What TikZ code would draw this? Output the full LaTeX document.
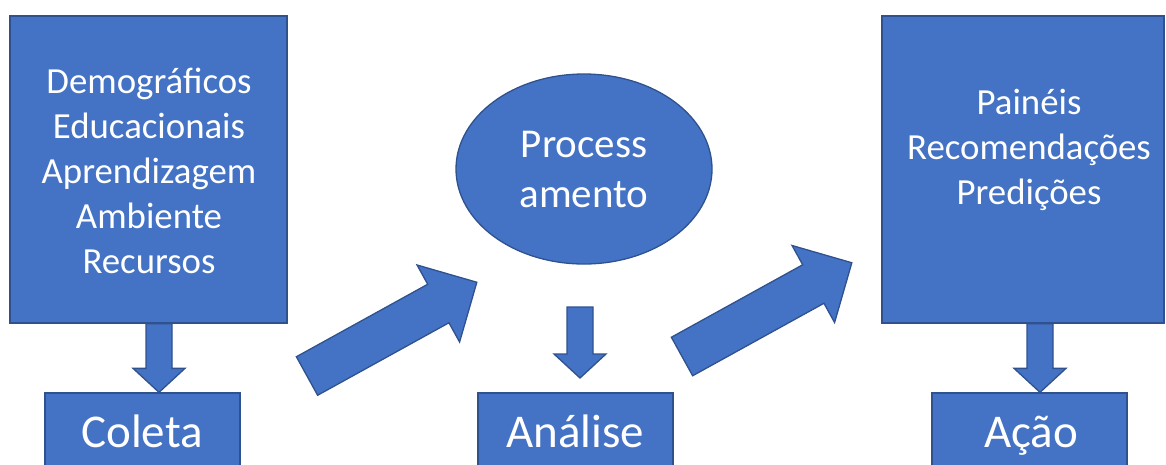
\documentclass[tikz,border=0pt]{standalone}
\usepackage{fontspec}
\setmainfont{Carlito}
\usetikzlibrary{shapes.geometric,calc}
\definecolor{boxfill}{HTML}{4472C4}
\definecolor{boxline}{HTML}{2F528F}

% Block arrow pointing down, from #1 (top of shaft) to #2 (tip)
\newcommand\blockdown[2]{%
  \draw[shapefill] let \p1=(#1), \p2=(#2) in
    (\x1-13pt,\y1) -- (\x1-13pt,\y2+24pt) -- (\x1-26pt,\y2+24pt) --
    (\x2,\y2) -- (\x1+26pt,\y2+24pt) -- (\x1+13pt,\y2+24pt) --
    (\x1+13pt,\y1) -- cycle;}

\begin{document}
\begin{tikzpicture}[x=1pt,y=-1pt,
  shapefill/.style={fill=boxfill, draw=boxline, line width=1.3pt, line join=miter},
  bigbox/.style={shapefill, rectangle, inner sep=0pt, minimum width=#1, minimum height=307},
  smallbox/.style={shapefill, rectangle, inner sep=0pt, minimum width=195, minimum height=110},
  listtext/.style={text=white, align=center, inner sep=0pt,
    font=\fontsize{36.8}{44.8}\selectfont},
  bigtext/.style={text=white, inner sep=0pt, anchor=base,
    font=\fontsize{47}{57}\selectfont},
  blockarrow/.pic={
    \draw[shapefill] (0,-22) -- (150,-22) -- (150,-44) -- (194,0) --
      (150,44) -- (150,22) -- (0,22) -- cycle;}
]
\useasboundingbox (0,0) rectangle (1166,464);
\clip (0,0) rectangle (1166,464);

% Data sources
\node[bigbox=277] (src) at (148.5,169.5) {};
\node[listtext] (srctext) at (149,171)
  {Demográficos\\Educacionais\\Aprendizagem\\Ambiente\\Recursos};

% Outputs
\node[bigbox=282] (out) at (1023,169.5) {};
\node[listtext] (outtext) at (1029,150)
  {Painéis\\Recomendações\\Predições};

% Processing
\node[shapefill, ellipse, inner sep=0pt, minimum width=256, minimum height=190,
  text=white, align=center, font=\fontsize{41}{50}\selectfont]
  (proc) at (584,169) {Process\\amento};

% Stage boxes along the bottom
\node[smallbox] (coleta) at (142.5,448) {};
\node[smallbox] (analise) at (575.5,448) {};
\node[smallbox] (acao) at (1029.5,448) {};
\node[bigtext] (coletatext) at (142,447) {Coleta};
\node[bigtext] (analisetext) at (575,447) {Análise};
\node[bigtext] (acaotext) at (1031,447) {Ação};

% Vertical arrows
\coordinate (la) at (159,0);
\coordinate (ra) at (1040,0);
\coordinate (mstart) at (580,307);
\coordinate (mtip) at (580,378);
\blockdown{la |- src.south}{la |- coleta.north}
\blockdown{mstart}{mtip}
\blockdown{ra |- out.south}{ra |- acao.north}

% Diagonal arrows
\coordinate (d1) at (307,376);
\coordinate (d2) at (682,356.5);
\pic[rotate=28.9] at (d1) {blockarrow};
\pic[rotate=28.9] at (d2) {blockarrow};
\end{tikzpicture}
\end{document}
